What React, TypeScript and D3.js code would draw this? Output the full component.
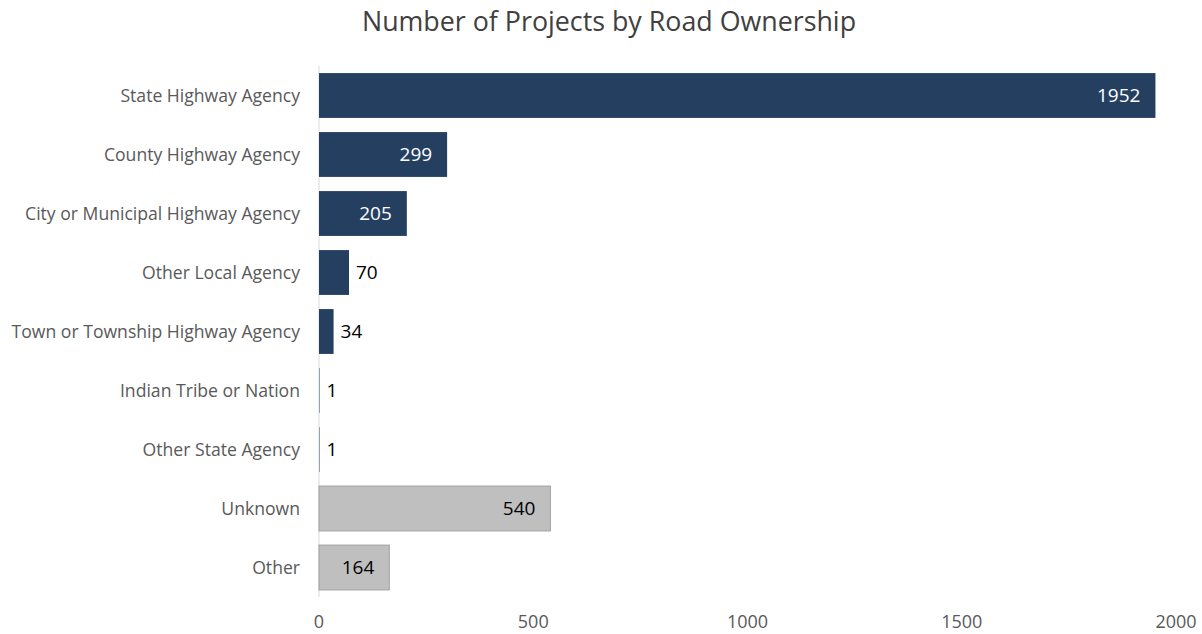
import React from "react";
import * as d3 from "d3";

const categories = [
  "State Highway Agency",
  "County Highway Agency",
  "City or Municipal Highway Agency",
  "Other Local Agency",
  "Town or Township Highway Agency",
  "Indian Tribe or Nation",
  "Other State Agency",
  "Unknown",
  "Other",
];
const values = [1952, 299, 205, 70, 34, 1, 1, 540, 164];
const groups = ["known", "known", "known", "known", "known", "known", "known", "unknown", "unknown"];
const xTicks = [0, 500, 1000, 1500, 2000];

const W = 1202;
const H = 634;
const FONT = "'Open Sans', 'Liberation Sans', sans-serif";

export default function App() {
  const x = d3.scaleLinear().domain([0, 2000]).range([319, 1176]);
  const y = d3.scaleBand<string>().domain(categories).range([66, 597]).paddingInner(0.24).paddingOuter(0.12);
  const fill = (g: string) => (g === "known" ? "#253F61" : "#BFBFBF");
  return (
    <svg width={W} height={H} style={{ position: "absolute", left: 0, top: 0, background: "#fff" }}>
      <text x={609} y={31} textAnchor="middle" fontFamily={FONT} fontSize={26.8} fill="#404040">
        Number of Projects by Road Ownership
      </text>
      <line x1={x(0)} x2={x(0)} y1={66} y2={597} stroke="#D9D9D9" strokeWidth={1} />
      {categories.map((c, i) => {
        const v = values[i];
        const g = groups[i];
        const y0 = y(c)!;
        const bw = y.bandwidth();
        const xe = x(v);
        const inside = xe - x(0) > 60;
        return (
          <g key={c}>
            <rect
              x={x(0)}
              y={y0}
              width={Math.max(0, xe - x(0))}
              height={bw}
              fill={fill(g)}
              stroke={g === "known" ? "none" : "#A0A0A0"}
              strokeWidth={1}
            />
            <text x={300} y={y0 + bw / 2} dy="0.35em" textAnchor="end" fontFamily={FONT} fontSize={17.6} fill="#595959">
              {c}
            </text>
            <text
              x={inside ? xe - 15 : xe + 7}
              y={y0 + bw / 2}
              dy="0.36em"
              textAnchor={inside ? "end" : "start"}
              fontFamily={FONT}
              fontSize={19}
              fill={inside && g === "known" ? "#FFFFFF" : "#000000"}
            >
              {v}
            </text>
          </g>
        );
      })}
      {xTicks.map((t) => (
        <text key={t} x={x(t)} y={628} textAnchor="middle" fontFamily={FONT} fontSize={18} fill="#595959">
          {t}
        </text>
      ))}
    </svg>
  );
}
